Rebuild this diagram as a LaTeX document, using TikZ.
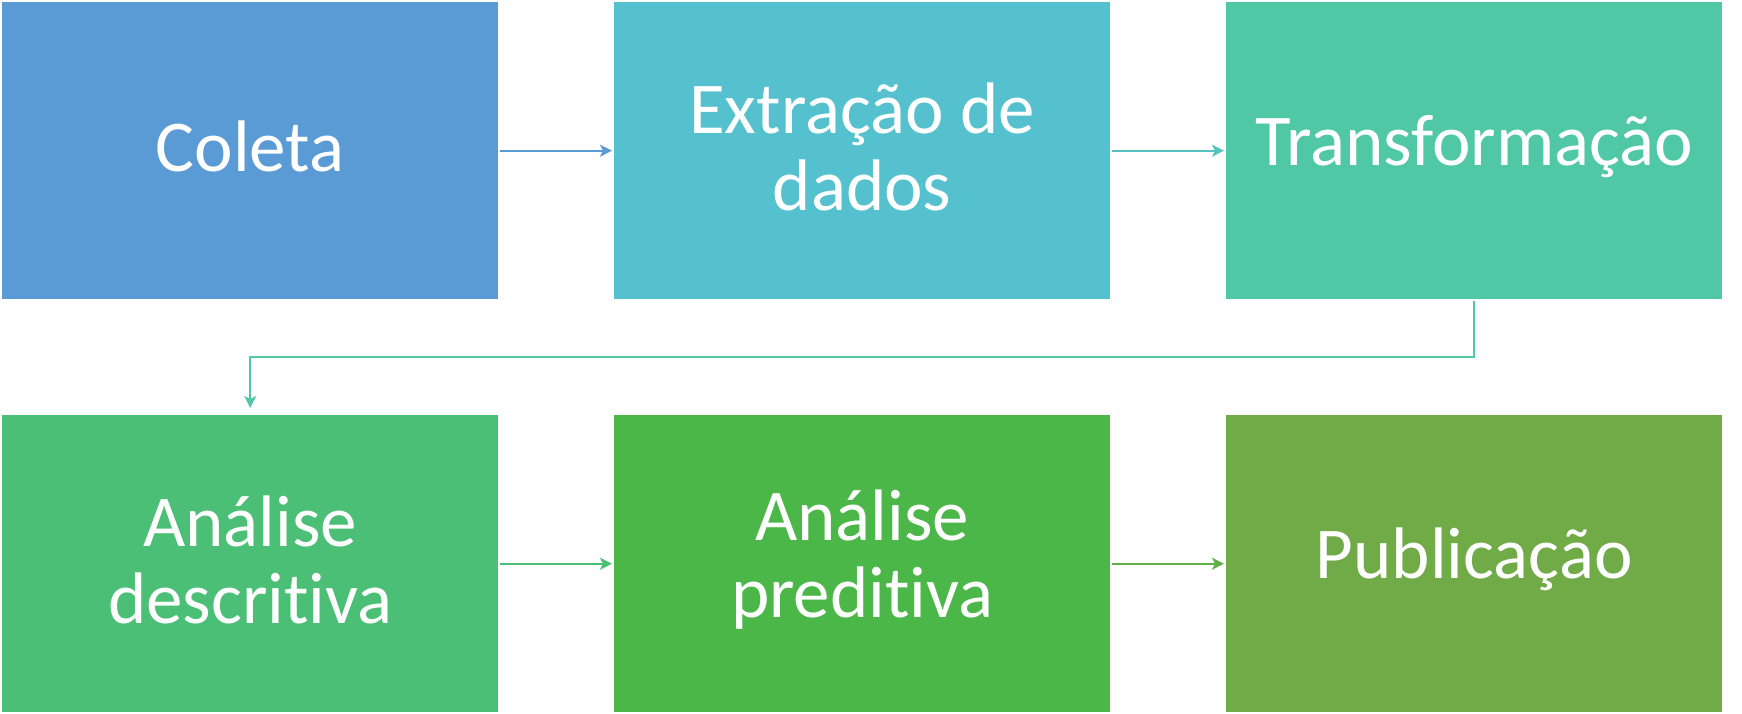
\documentclass[tikz,border=0pt]{standalone}
\usepackage{fontspec}
\setmainfont{Carlito}[Ligatures=NoCommon]
\usetikzlibrary{arrows.meta}
\definecolor{cA}{HTML}{5B9BD5}
\definecolor{cB}{HTML}{55C1CE}
\definecolor{cC}{HTML}{50C8A5}
\definecolor{cD}{HTML}{4BBF75}
\definecolor{cE}{HTML}{4BB748}
\definecolor{cF}{HTML}{70AB47}
\tikzset{
  stagebox/.style={rectangle, anchor=north west, inner sep=0pt, minimum width=496pt, minimum height=297pt},
  boxtext/.style={text=white, align=center, inner sep=0pt, yshift=4pt, font=\fontsize{73}{77}\selectfont},
  flowarrow/.style={line width=2pt, -{Stealth[length=12pt,width=12pt,inset=3pt]}, shorten <=2pt, shorten >=2pt}
}
\begin{document}
\begin{tikzpicture}[x=1pt,y=-1pt]
\useasboundingbox (0,0) rectangle (1742,714);
\node[stagebox, fill=cA, label={[boxtext]center:Coleta}] (c1) at (2,2) {};
\node[stagebox, fill=cB, label={[boxtext]center:Extração de\\dados}] (c2) at (614,2) {};
\node[stagebox, fill=cC, label={[boxtext]center:Transformação}] (c3) at (1226,2) {};
\node[stagebox, fill=cD, label={[boxtext]center:Análise\\descritiva}] (a1) at (2,415) {};
\node[stagebox, fill=cE, label={[boxtext]center:Análise\\preditiva}] (a2) at (614,415) {};
\node[stagebox, fill=cF, label={[boxtext]center:Publicação}] (a3) at (1226,415) {};
\draw[flowarrow, draw=cA] (c1.east) -- (c2.west);
\draw[flowarrow, draw=cB!60!cC] (c2.east) -- (c3.west);
\draw[flowarrow, draw=cC, shorten >=7pt] (c3.south) -- ++(0,58) -| (a1.north);
\draw[flowarrow, draw=cD] (a1.east) -- (a2.west);
\draw[flowarrow, draw=cE!40!cF] (a2.east) -- (a3.west);
\end{tikzpicture}
\end{document}
